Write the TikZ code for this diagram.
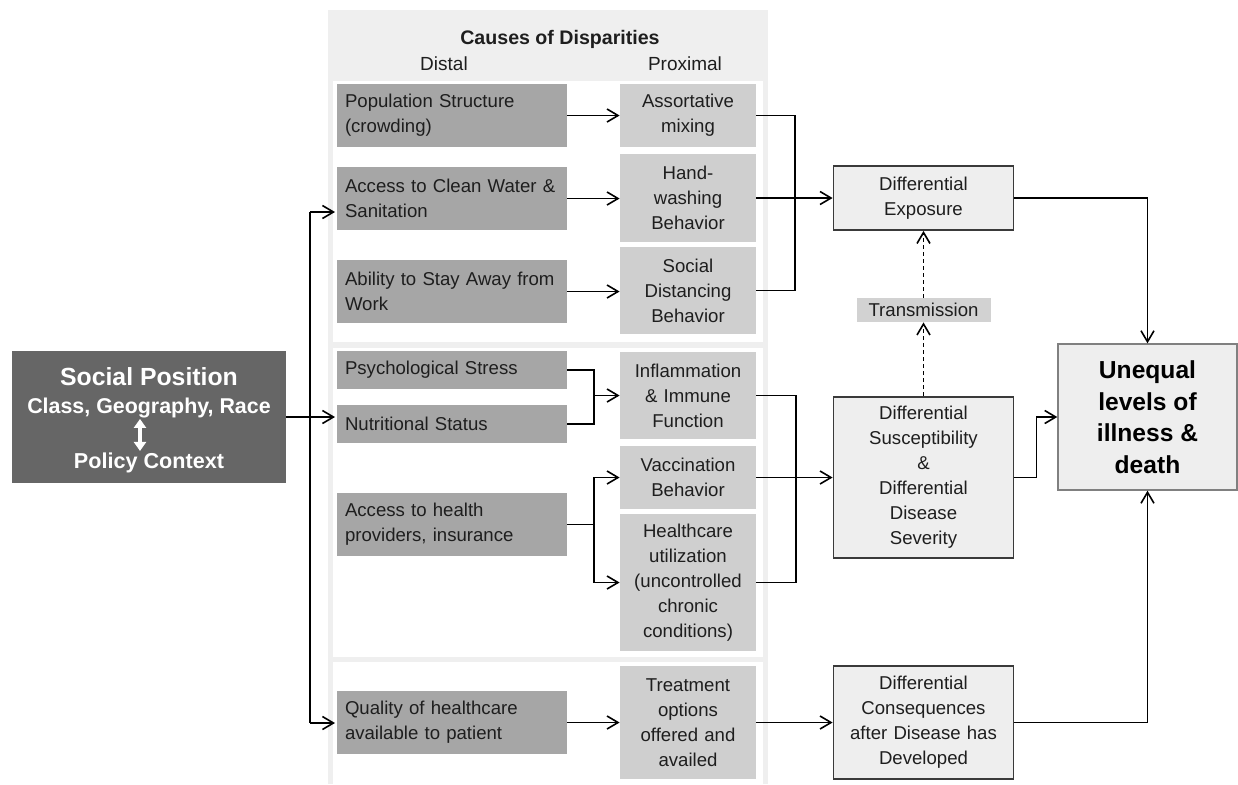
\documentclass[tikz,border=0pt]{standalone}
\usepackage{fontspec}
\setmainfont{Liberation Sans}
\usetikzlibrary{arrows.meta}
\definecolor{panelgray}{HTML}{EFEFEF}
\definecolor{distalgray}{HTML}{A6A6A6}
\definecolor{proxgray}{HTML}{CFCFCF}
\definecolor{socgray}{HTML}{666666}
\definecolor{difffill}{HTML}{EEEEEE}
\definecolor{diffline}{HTML}{3A3A3A}
\definecolor{trngray}{HTML}{D2D2D2}
\definecolor{inkgray}{HTML}{1E1E1E}
\newcommand{\boxfont}{\fontsize{9.3}{12.5}\selectfont}
\tikzset{
  distal/.style={fill=distalgray, text=inkgray, text width=107pt, inner xsep=4pt, inner ysep=0pt, minimum height=31.5pt, align=left, font=\boxfont},
  prox/.style={fill=proxgray, text=inkgray, text width=66pt, inner xsep=1pt, inner ysep=0pt, align=center, font=\boxfont},
  diff/.style={draw=diffline, line width=0.9pt, fill=difffill, text=inkgray, text width=88pt, inner xsep=1pt, inner ysep=0pt, align=center, font=\boxfont},
  soctext/.style={text=white, inner sep=0pt, anchor=base},
  arr/.style={line width=0.8pt, -{Straight Barb[length=5.5pt,width=6.5pt]}},
  darr/.style={arr, dash pattern=on 2pt off 1.5pt},
  link/.style={line width=0.8pt},
}

\begin{document}
\begin{tikzpicture}[x=0.5pt,y=-0.5pt]
    \useasboundingbox (0,0) rectangle (1238,784);
    \fill[panelgray] (328,10) rectangle (768,784);
    \fill[white] (333,81) rectangle (763,342);
    \fill[white] (333,348) rectangle (763,657);
    \fill[white] (333,662) rectangle (763,784);
    \node[anchor=base, font=\bfseries\fontsize{9.8}{12}\selectfont, text=inkgray] (hdr) at (560,44) {Causes of Disparities};
    \node[anchor=base, font=\fontsize{9.5}{12}\selectfont, text=inkgray] (dst) at (444,70) {Distal};
    \node[anchor=base, font=\fontsize{9.5}{12}\selectfont, text=inkgray] (prx) at (685,70) {Proximal};
    \node[fill=socgray, minimum width=137pt, minimum height=66pt] (soc) at (149,417) {};
    \node[soctext, font=\bfseries\fontsize{12.4}{14}\selectfont] (sp1) at (149,385) {Social Position};
    \node[soctext, font=\bfseries\fontsize{10.7}{13}\selectfont] (sp2) at (149,413) {Class, Geography, Race};
    \node[soctext, font=\bfseries\fontsize{10.8}{13}\selectfont] (sp3) at (149,468) {Policy Context};
    \draw[white, line width=1.6pt, shorten <=0.5pt, shorten >=0.5pt, {Triangle[length=4.5pt,width=6pt]}-{Triangle[length=4.5pt,width=6pt]}] ([xshift=-4.5pt]sp2.south) -- ([xshift=-4.5pt]sp3.north);
    \node[distal] (pop) at (452,115.5) {Population Structure\\(crowding)};
    \node[distal] (wat) at (452,198.5) {Access to Clean Water~\&\\Sanitation};
    \node[distal] (abl) at (452,291.5) {Ability to Stay Away from\\Work};
    \node[distal, minimum height=19pt] (psy) at (452,370) {Psychological Stress};
    \node[distal, minimum height=19pt] (nut) at (452,424) {Nutritional Status};
    \node[distal] (acc) at (452,524.5) {Access to health\\providers, insurance};
    \node[distal] (qual) at (452,722.5) {Quality of healthcare\\available to patient};
    \node[prox, minimum height=31.5pt] (asm) at (688,115.5) {Assortative\\mixing};
    \node[prox, minimum height=44pt] (hnd) at (688,198) {Hand-\\washing\\Behavior};
    \node[prox, minimum height=43.5pt] (sdb) at (688,290.5) {Social\\Distancing\\Behavior};
    \node[prox, minimum height=43.5pt] (inf) at (688,395.5) {Inflammation\\\& Immune\\Function};
    \node[prox, minimum height=31.5pt] (vac) at (688,477.5) {Vaccination\\Behavior};
    \node[prox, minimum height=68.5pt] (hcu) at (688,582.5) {Healthcare\\utilization\\(uncontrolled\\chronic\\conditions)};
    \node[prox, minimum height=56.5pt] (trt) at (688,722.5) {Treatment\\options\\offered and\\availed};
    \node[diff, minimum height=32pt] (exp) at (923.5,198) {Differential\\Exposure};
    \node[diff, minimum height=80.5pt] (sus) at (923.5,477.5) {Differential\\Susceptibility\\\&\\Differential\\Disease\\Severity};
    \node[diff, minimum height=56.5pt] (con) at (923.5,722.5) {Differential\\Consequences\\after Disease has\\Developed};
    \node[fill=trngray, text=inkgray, minimum width=67pt, minimum height=12pt, inner sep=0pt, font=\boxfont] (trn) at (923.5,310) {Transmission};
    \node[draw=gray, line width=0.7pt, fill=difffill, text=black, minimum width=89.5pt, minimum height=73pt, inner sep=0pt, align=center, font=\bfseries\fontsize{12.3}{15.8}\selectfont] (uneq) at (1147.5,417) {Unequal\\levels of\\illness \&\\death};
    \coordinate (t1) at (310,212);
    \coordinate (t3) at (310,723);
    \coordinate (e1) at (335,212);
    \coordinate (e2) at (335,417);
    \coordinate (e3) at (335,723);
    \coordinate (j1) at (594,395.5);
    \coordinate (j2) at (594,524.5);
    \coordinate (j3) at (795,198);
    \coordinate (j4) at (796,477.5);
    \draw[arr] (soc.east) -- (e2);
    \draw[link] (t1) -- (t3);
    \draw[arr] (t1) -- (e1);
    \draw[arr] (t3) -- (e3);
    \draw[arr] (pop) -- (asm);
    \draw[arr] (wat.east) -- (hnd.west |- wat.east);
    \draw[arr] (abl.east) -- (sdb.west |- abl.east);
    \draw[link] (psy.east) -| (j1);
    \draw[link] (nut.east) -| (j1);
    \draw[arr] (j1) -- (inf);
    \draw[link] (acc.east) -- (j2);
    \draw[arr] (j2) |- (vac.west);
    \draw[arr] (j2) |- (hcu.west);
    \draw[arr] (qual) -- (trt);
    \draw[link] (asm.east) -| (j3);
    \draw[link] (sdb.east) -| (j3);
    \draw[arr] (hnd.east) -- (exp.west);
    \draw[link] (inf.east) -| (j4);
    \draw[link] (hcu.east) -| (j4);
    \draw[arr] (vac.east) -- (sus.west);
    \draw[arr] (trt) -- (con);
    \draw[darr] (sus.north) -- (trn.south);
    \draw[darr] (trn.north) -- (exp.south);
    \draw[arr] (exp.east) -| (uneq.north);
    \draw[arr] (sus.east) -- ++(22,0) |- (uneq.west);
    \draw[arr] (con.east) -| (uneq.south);
\end{tikzpicture}
\end{document}
